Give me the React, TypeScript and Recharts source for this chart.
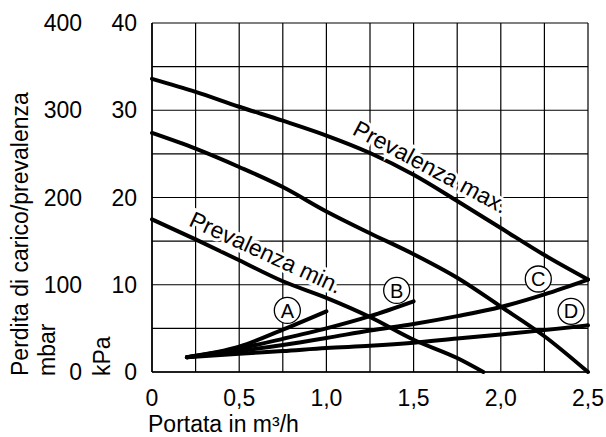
import { LineChart, Line, XAxis, YAxis, CartesianGrid, ReferenceDot } from 'recharts'

const FONT = '"Liberation Sans", Arial, sans-serif'

// portata in m³/h on x, perdita/prevalenza in kPa on y (mbar = kPa * 10)
const xTicks = [0, 0.25, 0.5, 0.75, 1, 1.25, 1.5, 1.75, 2, 2.25, 2.5]
const yTicks = [0, 5, 10, 15, 20, 25, 30, 35, 40]

const prevalenzaMax = [
    { x: 0, y: 33.6 }, { x: 0.25, y: 32.1 }, { x: 0.5, y: 30.4 }, { x: 0.75, y: 28.8 },
    { x: 1, y: 27.1 }, { x: 1.25, y: 25.1 }, { x: 1.5, y: 22.6 }, { x: 1.75, y: 19.6 },
    { x: 2, y: 16.5 }, { x: 2.25, y: 13.4 }, { x: 2.5, y: 10.6 },
]
const prevalenzaMed = [
    { x: 0, y: 27.4 }, { x: 0.25, y: 25.6 }, { x: 0.5, y: 23.5 }, { x: 0.75, y: 21.2 },
    { x: 1, y: 18.4 }, { x: 1.25, y: 15.9 }, { x: 1.5, y: 13.5 }, { x: 1.75, y: 10.8 },
    { x: 2, y: 7.5 }, { x: 2.25, y: 4.1 }, { x: 2.5, y: 0 },
]
const prevalenzaMin = [
    { x: 0, y: 17.5 }, { x: 0.25, y: 15.2 }, { x: 0.5, y: 12.8 }, { x: 0.75, y: 10.4 },
    { x: 1, y: 8.5 }, { x: 1.25, y: 6.3 }, { x: 1.5, y: 3.7 }, { x: 1.75, y: 1.6 },
    { x: 1.9, y: 0 },
]
const curveA = [
    { x: 0.2, y: 1.7 }, { x: 0.5, y: 2.9 }, { x: 0.75, y: 4.85 }, { x: 1, y: 6.95 },
]
const curveB = [
    { x: 0.2, y: 1.7 }, { x: 0.5, y: 2.7 }, { x: 0.75, y: 3.8 }, { x: 1, y: 5.0 },
    { x: 1.25, y: 6.4 }, { x: 1.5, y: 8.1 },
]
const curveC = [
    { x: 0.2, y: 1.7 }, { x: 0.5, y: 2.4 }, { x: 0.75, y: 3.1 }, { x: 1, y: 3.9 },
    { x: 1.25, y: 4.75 }, { x: 1.5, y: 5.5 }, { x: 1.75, y: 6.4 }, { x: 2, y: 7.45 },
    { x: 2.25, y: 8.9 }, { x: 2.5, y: 10.6 },
]
const curveD = [
    { x: 0.2, y: 1.7 }, { x: 0.5, y: 2.1 }, { x: 0.75, y: 2.4 }, { x: 1, y: 2.75 },
    { x: 1.25, y: 3.0 }, { x: 1.5, y: 3.35 }, { x: 1.75, y: 3.85 }, { x: 2, y: 4.3 },
    { x: 2.25, y: 4.8 }, { x: 2.5, y: 5.35 },
]

const series = [prevalenzaMax, prevalenzaMed, prevalenzaMin, curveA, curveB, curveC, curveD]

// annotations, in data units
const circleLabels = [
    { id: 'A', x: 0.776, y: 7.06 },
    { id: 'B', x: 1.403, y: 9.35 },
    { id: 'C', x: 2.215, y: 10.66 },
    { id: 'D', x: 2.403, y: 6.95 },
]
const curveLabels = [
    { text: 'Prevalenza max.', x: 1.597, y: 23.5, angle: 28 },
    { text: 'Prevalenza min.', x: 0.653, y: 13.7, angle: 24.8 },
]

const fmtX = (v: number) => {
    if (Math.abs(v * 2 - Math.round(v * 2)) > 1e-6) return ''
    return v === 0 ? '0' : v.toFixed(1).replace('.', ',')
}

function DualTick({ x, y, payload }: any) {
    const v = payload.value
    if (v % 10 !== 0) return <g />
    return (
        <g fontFamily={FONT} fontSize={23} fill="#000">
            <text x={x} y={y} dy="0.355em" textAnchor="end">{v}</text>
            <text x={x - 55} y={y} dy="0.355em" textAnchor="end">{v * 10}</text>
        </g>
    )
}

function YLabels({ viewBox }: any) {
    const { x, y, height } = viewBox
    const bottom = y + height + 4
    return (
        <g fontFamily={FONT} fontSize={23} fill="#000">
            <text transform={`translate(${x + 28}, ${bottom}) rotate(-90)`}>Perdita di carico/prevalenza</text>
            <text transform={`translate(${x + 55}, ${bottom}) rotate(-90)`}>mbar</text>
            <text transform={`translate(${x + 110}, ${bottom}) rotate(-90)`}>kPa</text>
        </g>
    )
}

function XLabel({ viewBox }: any) {
    const { x, y } = viewBox
    return (
        <text x={x - 4} y={y + 60} fontFamily={FONT} fontSize={23} fill="#000">
            Portata in m³/h
        </text>
    )
}

const curveText = (text: string, angle: number) => (p: any) => (
    <text
        x={p.cx}
        y={p.cy}
        transform={`rotate(${angle}, ${p.cx}, ${p.cy})`}
        textAnchor="middle"
        dominantBaseline="central"
        fontFamily={FONT}
        fontSize={23}
        fill="#000"
        stroke="#fff"
        strokeWidth={6}
        paintOrder="stroke"
    >
        {text}
    </text>
)

export default function App() {
    return (
        <div style={{ position: 'absolute', left: 0, top: 0, background: '#fff' }}>
            <LineChart width={606} height={437} margin={{ top: 23, right: 18, bottom: 25, left: 0 }}>
                <CartesianGrid stroke="#000" strokeWidth={1.2} />
                <XAxis
                    type="number"
                    dataKey="x"
                    domain={[0, 2.5]}
                    ticks={xTicks}
                    tickFormatter={fmtX}
                    interval={0}
                    height={40}
                    tickSize={0}
                    tickMargin={18}
                    axisLine={{ stroke: '#000', strokeWidth: 1.5 }}
                    tick={{ fontFamily: FONT, fontSize: 23, fill: '#000' }}
                    label={<XLabel />}
                />
                <YAxis
                    type="number"
                    dataKey="y"
                    domain={[0, 40]}
                    ticks={yTicks}
                    interval={0}
                    width={152}
                    tickSize={0}
                    tickMargin={15}
                    axisLine={{ stroke: '#000', strokeWidth: 1.5 }}
                    tick={<DualTick />}
                    label={<YLabels />}
                />
                {series.map((d, i) => (
                    <Line
                        key={i}
                        data={d}
                        dataKey="y"
                        type="monotone"
                        stroke="#000"
                        strokeWidth={4}
                        strokeLinecap="round"
                        dot={false}
                        activeDot={false}
                        isAnimationActive={false}
                    />
                ))}
                {curveLabels.map((l) => (
                    <ReferenceDot key={l.text} x={l.x} y={l.y} r={0} shape={curveText(l.text, l.angle)} />
                ))}
                {circleLabels.map((c) => (
                    <ReferenceDot
                        key={c.id}
                        x={c.x}
                        y={c.y}
                        r={13}
                        fill="#fff"
                        stroke="#000"
                        strokeWidth={1.3}
                        label={{ value: c.id, position: 'center', fontFamily: FONT, fontSize: 20, fill: '#000' }}
                    />
                ))}
            </LineChart>
        </div>
    )
}
